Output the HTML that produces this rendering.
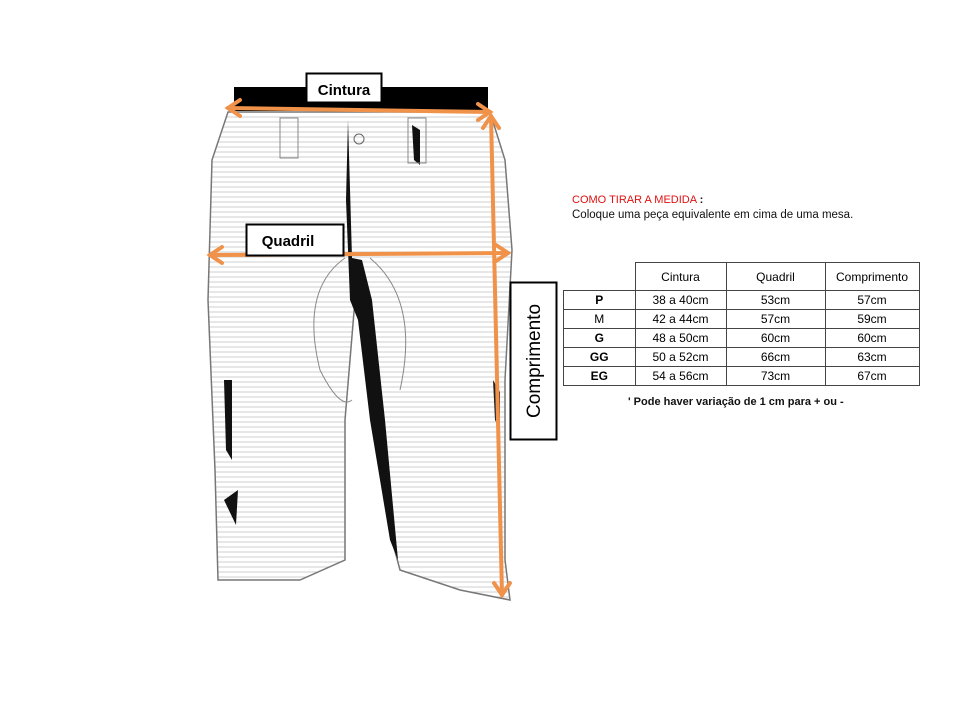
<!DOCTYPE html>
<html><head><meta charset="utf-8"><style>
body{margin:0;background:#fff;width:960px;height:720px;overflow:hidden;position:relative;font-family:"Liberation Sans",sans-serif}
svg{position:absolute;left:0;top:0}
.t{position:absolute;font-size:12px;color:#111}
table{position:absolute;left:563px;top:262px;border-collapse:collapse;font-size:12px}
td{border:1px solid #444;text-align:center;height:18px;padding:0}
</style></head><body>
<svg width="960" height="720">
<defs>
<pattern id="h" width="6" height="5" patternUnits="userSpaceOnUse">
<line x1="0" y1="2" x2="6" y2="2" stroke="#cfcfcf" stroke-width="1"/>
</pattern>
</defs>
<!-- shorts -->
<path d="M228 112 L490 112 L505 160 L512 250 L505 380 L505 560 L510 600 L460 590 L400 570 L392 540 L380 420 L365 290 L355 300 L345 420 L345 560 L300 580 L218 580 L215 470 L208 300 L212 160 Z" fill="url(#h)" stroke="#777" stroke-width="1.5"/>
<path d="M345 258 Q300 290 320 370 Q340 410 352 400" fill="none" stroke="#888"/>
<path d="M370 258 Q420 300 400 390" fill="none" stroke="#888"/>
<path d="M348 120 L352 258 L362 260 L372 300 L385 420 L398 560 L390 540 L370 420 L358 320 L350 300 L346 200 Z" fill="#111"/>
<path d="M412 125 L420 130 L420 165 L414 160 Z" fill="#111"/>
<path d="M224 380 L232 380 L232 460 L226 450 Z" fill="#111"/>
<path d="M224 500 L238 490 L236 525 Z" fill="#111"/>
<path d="M493 380 L500 392 L500 430 L495 420 Z" fill="#222"/>
<circle cx="359" cy="139" r="5" fill="none" stroke="#666"/>
<rect x="280" y="118" width="18" height="40" fill="none" stroke="#888"/>
<rect x="408" y="118" width="18" height="45" fill="none" stroke="#888"/>
<!-- waistband -->
<rect x="234" y="87" width="254" height="24" fill="#000"/>
<!-- arrows -->
<g stroke="#f0924a" stroke-width="4" fill="none" stroke-linecap="round">
<line x1="228" y1="108" x2="490" y2="112"/>
<polyline points="240,100 228,108 240,116"/>
<polyline points="478,104 490,112 478,120"/>
<line x1="210" y1="255" x2="508" y2="253"/>
<polyline points="222,247 210,255 222,263"/>
<polyline points="496,245 508,253 496,261"/>
<line x1="491" y1="116" x2="502" y2="595"/>
<polyline points="483,128 491,116 499,128"/>
<polyline points="494,583 502,595 510,583"/>
</g>
<rect x="306.5" y="73.5" width="75" height="29" fill="#fff" stroke="#000" stroke-width="2"/>
<text x="344" y="95" font-size="15" font-weight="bold" text-anchor="middle" font-family="Liberation Sans">Cintura</text>
<rect x="246.5" y="224.5" width="97" height="31" fill="#fff" stroke="#000" stroke-width="2"/>
<text x="288" y="246" font-size="15" font-weight="bold" text-anchor="middle" font-family="Liberation Sans">Quadril</text>
<rect x="510.5" y="282.5" width="46" height="157" fill="#fff" stroke="#000" stroke-width="2"/>
<text transform="translate(540,361) rotate(-90)" font-size="19" text-anchor="middle" font-family="Liberation Sans">Comprimento</text>
</svg>
<div class="t" style="left:572px;top:194px;font-size:11px"><span style="color:#e01010">COMO TIRAR A MEDIDA</span> <b>:</b></div>
<div class="t" style="left:572px;top:209px;font-size:11.5px">Coloque uma peça equivalente em cima de uma mesa.</div>
<table>
<tr style="height:28px"><td style="border:none;border-bottom:1px solid #444;width:71px"></td><td style="width:90px">Cintura</td><td style="width:98px">Quadril</td><td style="width:93px">Comprimento</td></tr>
<tr><td><b>P</b></td><td>38 a 40cm</td><td>53cm</td><td>57cm</td></tr>
<tr><td>M</td><td>42 a 44cm</td><td>57cm</td><td>59cm</td></tr>
<tr><td><b>G</b></td><td>48 a 50cm</td><td>60cm</td><td>60cm</td></tr>
<tr><td><b>GG</b></td><td>50 a 52cm</td><td>66cm</td><td>63cm</td></tr>
<tr><td><b>EG</b></td><td>54 a 56cm</td><td>73cm</td><td>67cm</td></tr>
</table>
<div class="t" style="left:628px;top:396px;font-size:11px;font-weight:bold">' Pode haver variação de 1 cm para + ou -</div>
</body></html>
